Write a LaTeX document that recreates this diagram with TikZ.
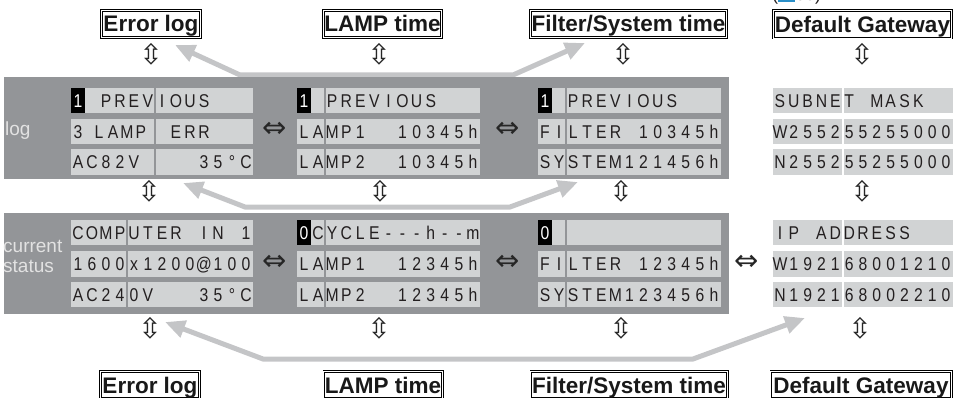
\documentclass[tikz,border=0pt]{standalone}
\usepackage{fontspec}
\setmainfont{Liberation Sans}
\newfontfamily\lcdfont[FakeStretch=0.85]{Liberation Sans}
\newfontfamily\symfont{DejaVu Sans}
\usetikzlibrary{arrows.meta}
\definecolor{bandgray}{HTML}{939598}
\definecolor{cellgray}{HTML}{D1D3D4}
\definecolor{arrowgray}{HTML}{C4C5C7}
\definecolor{lcdink}{HTML}{231F20}
\definecolor{labelink}{HTML}{E2E2E2}
\definecolor{iconblue}{HTML}{2A8FC8}

\newlength\lcdpitch
\def\lcdh{LCDHALFMARK}
\def\lcd#1{\lcdloop#1\relax}
\def\lcdloop#1{%
  \ifx\relax#1\else
    \ifx\lcdh#1\hspace*{.5\lcdpitch}\else\makebox[\lcdpitch]{#1}\fi
    \expandafter\lcdloop
  \fi}

\newcommand\cellrow[8]{%
  \fill[cellgray] (#2,#5) rectangle ({#3-0.6},#6);
  \fill[cellgray] ({#3+0.6},#5) rectangle (#4,#6);
  \node[lcdtxt] (#1) at (#2,{(#5+#6)/2+6.6}) {\setlength\lcdpitch{#7pt}\lcd{#8}};
}
\newcommand\hlchar[5]{%
  \fill[black] (#2,#3) rectangle ({#2+14},#4);
  \node[lcdtxt,anchor=base,text=white] (#1) at ({#2+7},{(#3+#4)/2+6.6}) {#5};
}

\tikzset{
  lcdtxt/.style={anchor=base west, inner sep=0pt, outer sep=0pt,
    font=\lcdfont\fontsize{18.5}{18.5}\selectfont, text=lcdink},
  sidelbl/.style={anchor=base west, inner sep=0pt,
    font=\fontsize{19}{20}\selectfont, text=labelink},
  lblbox/.style={draw=black, double=white, double distance=1pt, line width=0.8pt,
    minimum height=27.4pt, inner sep=0pt, text height=16pt, text depth=0pt,
    font=\bfseries\fontsize{22.5}{22.5}\selectfont, text=black!90},
  udarr/.style={inner sep=0pt, font=\symfont\fontsize{28}{28}\selectfont, text=black!85},
  lrarr/.style={inner sep=0pt, font=\symfont\fontsize{29}{29}\selectfont, text=black!85},
  garrow/.style={draw=arrowgray, line width=5pt,
    {Triangle[length=20pt,width=17pt]}-{Triangle[length=20pt,width=17pt]}},
}

\begin{document}
\begin{tikzpicture}[x=1pt,y=-1pt]
\useasboundingbox (0,0) rectangle (960,398);

% partial reference text at the top edge
\node[anchor=base west, inner sep=0pt, font=\fontsize{18}{18}\selectfont, text=lcdink] (pageref)
  at (772,1) {(\textcolor{iconblue}{\rule[-1pt]{17pt}{13pt}}63)};

% top labels
\node[lblbox, minimum width=99.4pt]  (elT) at (151,24) {Error log};
\node[lblbox, minimum width=118.4pt] (ltT) at (382.5,24) {LAMP time};
\node[lblbox, minimum width=196.4pt] (fsT) at (628.5,24) {Filter/System time};
\node[lblbox, minimum width=178.4pt] (dgT) at (862.5,24.5) {Default Gateway};

% bottom labels
\node[lblbox, minimum width=99.4pt]  (elB) at (150,385) {Error log};
\node[lblbox, minimum width=118.4pt] (ltB) at (383,385) {LAMP time};
\node[lblbox, minimum width=196.4pt] (fsB) at (629,385) {Filter/System time};
\node[lblbox, minimum width=180.4pt] (dgB) at (861,385) {Default Gateway};

% gray arrows
\coordinate (a1s) at (175,45);  \coordinate (a1b) at (240,75);
\coordinate (a1c) at (513,75);  \coordinate (a1e) at (585,43);
\draw[garrow] (a1s) -- (a1b) -- (a1c) -- (a1e);
\coordinate (a2s) at (183,183); \coordinate (a2b) at (245,207);
\coordinate (a2c) at (510,207); \coordinate (a2e) at (578,182);
\draw[garrow] (a2s) -- (a2b) -- (a2c) -- (a2e);
\coordinate (a3s) at (165,322); \coordinate (a3b) at (263,359);
\coordinate (a3c) at (693,359); \coordinate (a3e) at (805,318);
\draw[garrow] (a3s) -- (a3b) -- (a3c) -- (a3e);

% bands
\fill[bandgray] (4,77) rectangle (729,179);
\fill[bandgray] (4,213) rectangle (729,314);

% side labels
\node[sidelbl] (lblLog) at (5,136) {log};
\node[sidelbl] (lblCur) at (3,252) {current};
\node[sidelbl] (lblSta) at (3,272) {status};

% ---- log band ----
\cellrow{la1}{71}{155}{253}{88}{113}{14}{~~PREVIOUS}
\hlchar{la1h}{71}{88}{113}{1}
\cellrow{la2}{71}{155}{253}{119}{144}{14}{3\lcdh LAMP~\lcdh ERR}
\cellrow{la3}{71}{155}{253}{149}{175}{14}{AC82V~~~~35°C}

\cellrow{lb1}{297}{325}{480}{88}{113}{14.08}{~~PREVIOUS}
\hlchar{lb1h}{297}{88}{113}{1}
\cellrow{lb2}{297}{325}{480}{119}{144}{14.08}{LAMP1~~10345h}
\cellrow{lb3}{297}{325}{480}{149}{175}{14.08}{LAMP2~~10345h}

\cellrow{lc1}{538}{566}{721}{88}{113}{14.08}{~~PREVIOUS}
\hlchar{lc1h}{538}{88}{113}{1}
\cellrow{lc2}{538}{566}{721}{119}{144}{14.08}{FILTER~10345h}
\cellrow{lc3}{538}{566}{721}{149}{175}{14.08}{SYSTEM121456h}

\cellrow{ld1}{773}{843}{953}{88}{113}{13.85}{SUBNET~MASK}
\cellrow{ld2}{773}{843}{953}{119}{144}{13.85}{W255255255000}
\cellrow{ld3}{773}{843}{953}{149}{175}{13.85}{N255255255000}

% ---- current status band ----
\cellrow{ca1}{71}{127}{253}{220}{245}{14}{COMPUTER~IN~1}
\cellrow{ca2}{71}{127}{253}{251}{277}{14}{1600x1200@100}
\cellrow{ca3}{71}{127}{253}{282}{307}{14}{AC240V~~~35°C}

\cellrow{cb1}{297}{325}{480}{220}{245}{14.08}{~CYCLE---h--m}
\hlchar{cb1h}{297}{220}{245}{0}
\cellrow{cb2}{297}{325}{480}{251}{277}{14.08}{LAMP1~~12345h}
\cellrow{cb3}{297}{325}{480}{282}{307}{14.08}{LAMP2~~12345h}

\cellrow{cc1}{538}{566}{721}{220}{245}{14.08}{~}
\hlchar{cc1h}{538}{220}{245}{0}
\cellrow{cc2}{538}{566}{721}{251}{277}{14.08}{FILTER~12345h}
\cellrow{cc3}{538}{566}{721}{282}{307}{14.08}{SYSTEM123456h}

\cellrow{cd1}{773}{843}{953}{220}{245}{13.85}{IP~ADDRESS}
\cellrow{cd2}{773}{843}{953}{251}{277}{13.85}{W192168001210}
\cellrow{cd3}{773}{843}{953}{282}{307}{13.85}{N192168002210}

% horizontal double arrows
\node[lrarr] (hl1) at (275,130) {⇔};
\node[lrarr] (hl2) at (508,130) {⇔};
\node[lrarr] (hc1) at (275,263) {⇔};
\node[lrarr] (hc2) at (508,263) {⇔};
\node[lrarr] (hc3) at (747,263) {⇔};

% vertical double arrows
\node[udarr] (u1) at (151,54) {⇳};
\node[udarr] (u2) at (379,54) {⇳};
\node[udarr] (u3) at (623,54) {⇳};
\node[udarr] (u4) at (862,54) {⇳};
\node[udarr] (m1) at (149,191) {⇳};
\node[udarr] (m2) at (380,191) {⇳};
\node[udarr] (m3) at (621,191) {⇳};
\node[udarr] (m4) at (862,191) {⇳};
\node[udarr] (b1) at (150,328) {⇳};
\node[udarr] (b2) at (379,328) {⇳};
\node[udarr] (b3) at (621,328) {⇳};
\node[udarr] (b4) at (860,328) {⇳};
\end{tikzpicture}
\end{document}
